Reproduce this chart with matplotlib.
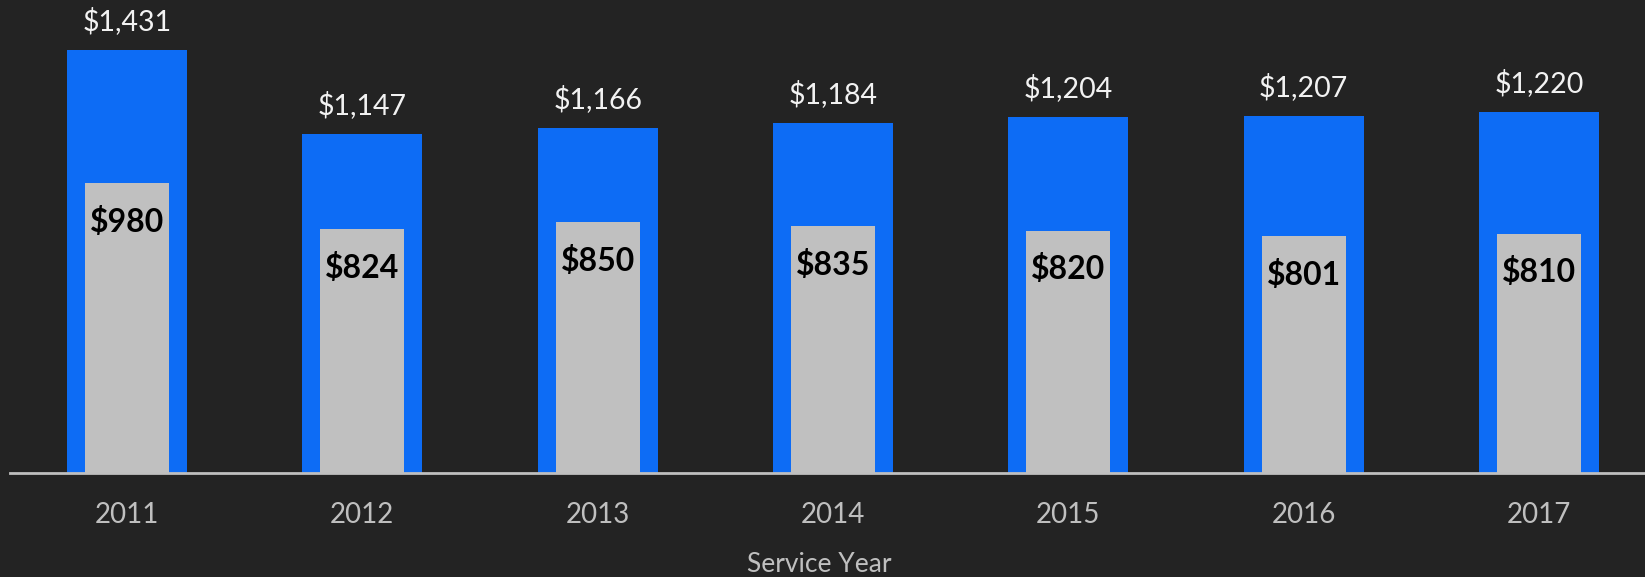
import matplotlib.pyplot as plt
import numpy as np

plt.rcParams['font.family'] = ['Lato', 'DejaVu Sans']

years = ['2011', '2012', '2013', '2014', '2015', '2016', '2017']
total = [1431, 1147, 1166, 1184, 1204, 1207, 1220]
inner = [980, 824, 850, 835, 820, 801, 810]

bg = '#232323'
blue = '#0d6cf5'
grey = '#c0c0c0'

fig = plt.figure(figsize=(16.45, 5.77), dpi=100, facecolor=bg)
ax = fig.add_axes([10 / 1645, 1 - 473 / 577, 1 - 10 / 1645, 473 / 577])
ax.set_facecolor(bg)

x = np.arange(len(years))
ax.bar(x, total, width=0.51, color=blue, zorder=2)
ax.bar(x, inner, width=0.357, color=grey, zorder=3)

for xi, t, v in zip(x, total, inner):
    ax.annotate(f'${t:,}', (xi, t), xytext=(0, 11), textcoords='offset points',
                ha='center', va='bottom', color='#f2f2f2', fontsize=20.5)
    ax.annotate(f'${v:,}', (xi, v), xytext=(0, -28), textcoords='offset points',
                ha='center', va='center', color='black', fontsize=23, fontweight='bold')

ax.set_xlim(-0.497, 6.45)
ax.set_ylim(0, 1600)
ax.set_xticks(x)
ax.set_xticklabels(years, color='#bfbfbf', fontsize=20)
ax.tick_params(axis='x', length=0, pad=21)
ax.set_yticks([])
for s in ['top', 'right', 'left']:
    ax.spines[s].set_visible(False)
ax.spines['bottom'].set_color('#bfbfbf')
ax.spines['bottom'].set_linewidth(2)
ax.spines['bottom'].set_zorder(4)

fig.text((1645 + 10) / 2 / 1645 - 0.005, 1 - 565 / 577, 'Service Year', ha='center', va='center',
         color='#bfbfbf', fontsize=19)

fig.savefig('out.png', dpi=100, facecolor=bg)
